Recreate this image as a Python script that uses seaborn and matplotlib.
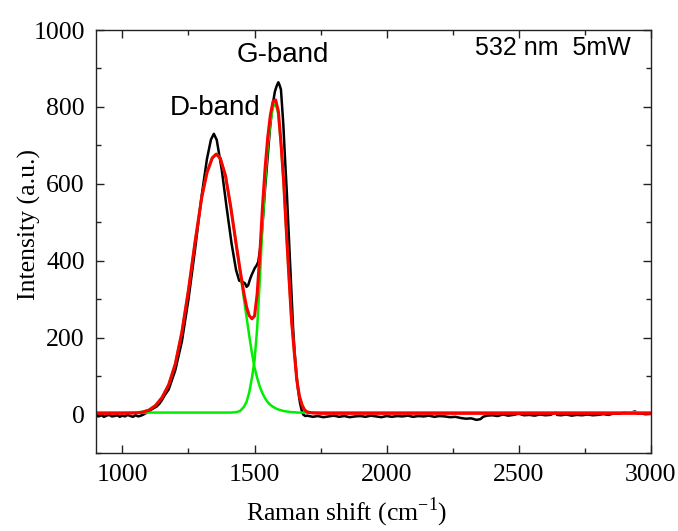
import numpy as np
import pandas as pd
import matplotlib
matplotlib.use('Agg')
import matplotlib.pyplot as plt
from matplotlib.ticker import MultipleLocator
import seaborn as sns

# raw spectrum (black)
raw_shift = [900, 910, 920, 930, 940, 950, 960, 970, 980, 990, 1000, 1010, 1020,
             1030, 1040, 1050, 1060, 1070, 1080, 1090, 1100, 1110, 1120, 1130,
             1140, 1150, 1160, 1175, 1200, 1225, 1250, 1275, 1300, 1320, 1335,
             1346, 1357, 1376, 1394, 1413, 1430, 1442, 1452, 1464, 1470, 1476,
             1482, 1489, 1495, 1501, 1508, 1514, 1520, 1527, 1533, 1539, 1546,
             1552, 1558, 1565, 1571, 1577, 1584, 1590, 1594, 1600, 1609, 1615,
             1622, 1628, 1634, 1640, 1646, 1652, 1659, 1665, 1672, 1678, 1684,
             1692, 1700, 1720, 1740, 1760, 1780, 1800, 1820, 1840, 1860, 1880,
             1900, 1920, 1940, 1960, 1980, 2000, 2020, 2040, 2060, 2080, 2100,
             2120, 2140, 2160, 2180, 2200, 2220, 2240, 2260, 2280, 2300, 2320,
             2340, 2355, 2365, 2380, 2400, 2420, 2440, 2460, 2480, 2500, 2520,
             2540, 2560, 2580, 2600, 2620, 2640, 2645, 2660, 2680, 2700, 2720,
             2740, 2760, 2780, 2800, 2820, 2840, 2860, 2880, 2900, 2920, 2940,
             2950, 2960, 2980, 3000]
raw_int = [-3, -5, -2, -6, -3, -1, -5, -4, -2, -6, -3, -5, -1,
           -4, -6, -2, -5, -3, 0, 4, 8, 13, 17, 21,
           28, 38, 50, 65, 115, 190, 300, 430, 570, 665, 715,
           730, 714, 636, 540, 445, 376, 348, 346, 341, 332, 336,
           350, 363, 372, 381, 388, 397, 425, 467, 520, 580, 640,
           692, 740, 787, 815, 840, 855, 864, 858, 845, 753, 670,
           580, 490, 397, 305, 224, 160, 103, 62, 30, 12, 0,
           -4, -3, -6, -4, -7, -5, -3, -6, -4, -7, -5,
           -4, -6, -3, -5, -7, -4, -6, -4, -5, -3, -6,
           -4, -5, -3, -6, -4, -5, -7, -6, -9, -11, -10,
           -14, -12, -6, -3, -2, -4, 0, -3, -1, 2, -2,
           -1, -3, 0, -2, -1, 6, -1, -2, 0, -3, -1,
           -2, 0, -2, -1, 1, -1, 3, 2, 6, 4, 8,
           2, 3, 1, 2]

# fitted curves (red = sum, green = D and G components)
fit_shift = [900, 1000, 1050, 1075, 1100, 1125, 1150, 1175, 1200, 1225, 1250,
             1275, 1300, 1320, 1340, 1355, 1370, 1390, 1410, 1430, 1445, 1460,
             1470, 1480, 1490, 1500, 1510, 1520, 1530, 1540, 1550, 1560, 1570,
             1580, 1590, 1600, 1610, 1620, 1630, 1640, 1650, 1660, 1670, 1680,
             1690, 1700, 1720, 1750, 1800, 2000, 3000]
d_band = [5, 5, 5, 7, 12, 24, 45, 78, 132, 215, 325,
          450, 565, 630, 668, 678, 668, 622, 540, 445, 374, 300,
          252, 205, 160, 122, 95, 72, 55, 42, 32, 25, 20,
          16, 13, 11, 9, 8, 7, 6, 6, 5, 5, 5,
          5, 5, 5, 5, 5, 5, 5]
g_band = [5, 5, 5, 5, 5, 5, 5, 5, 5, 5, 5,
          5, 5, 5, 5, 5, 5, 5, 5, 6, 9, 20,
          33, 58, 95, 140, 225, 350, 490, 605, 695, 760, 800,
          808, 782, 702, 605, 480, 360, 245, 165, 90, 48, 25,
          12, 7, 5, 5, 5, 5, 5]
fit_sum = [3, 3, 4, 6, 11, 23, 44, 77, 131, 214, 324,
           449, 564, 629, 667, 677, 667, 621, 539, 445, 377, 314,
           279, 257, 249, 256, 314, 416, 539, 641, 721, 779, 814,
           818, 789, 707, 608, 482, 361, 245, 165, 89, 47, 24,
           11, 6, 4, 3, 3, 3, 3]

raw = pd.DataFrame({'shift': raw_shift, 'intensity': raw_int})
fit = pd.DataFrame({'shift': fit_shift, 'D': d_band, 'G': g_band, 'fit': fit_sum})

sns.set_theme(style='ticks')
plt.rcParams['font.family'] = ['Liberation Serif', 'DejaVu Serif']
plt.rcParams['mathtext.fontset'] = 'custom'
plt.rcParams['mathtext.rm'] = 'Liberation Serif'
plt.rcParams['text.color'] = 'black'
plt.rcParams['axes.labelcolor'] = 'black'
plt.rcParams['xtick.color'] = 'black'
plt.rcParams['ytick.color'] = 'black'

fig = plt.figure(figsize=(6.78, 5.31), dpi=100)
ax = fig.add_axes([0.1416, 0.147, 0.8184, 0.7965])

sns.lineplot(data=raw, x='shift', y='intensity', color='black', lw=1.8,
             sort=False, estimator=None, ax=ax)
sns.lineplot(data=fit, x='shift', y='D', color='#00ee00', lw=1.8,
             sort=False, estimator=None, ax=ax)
sns.lineplot(data=fit, x='shift', y='G', color='#00ee00', lw=1.8,
             sort=False, estimator=None, ax=ax)
sns.lineplot(data=fit, x='shift', y='fit', color='red', lw=2.2,
             sort=False, estimator=None, ax=ax)

ax.set_xlim(900, 3000)
ax.set_ylim(-100, 1000)
ax.xaxis.set_major_locator(MultipleLocator(500))
ax.xaxis.set_minor_locator(MultipleLocator(250))
ax.yaxis.set_major_locator(MultipleLocator(200))
ax.yaxis.set_minor_locator(MultipleLocator(100))
ax.tick_params(which='both', direction='in', top=True, right=True,
               labelsize=18.5, width=1, color='#222222', labelcolor='black')
ax.tick_params(which='major', length=6, pad=8)
ax.tick_params(which='minor', length=3.5)
for sp in ax.spines.values():
    sp.set_linewidth(1)
    sp.set_color('#222222')

ax.set_xlabel('Raman shift (cm$^{\\mathregular{-1}}$)', fontsize=18.5)
ax.set_ylabel('Intensity (a.u.)', fontsize=18.5)
ax.xaxis.set_label_coords(0.452, -0.10)
ax.yaxis.set_label_coords(-0.10, 0.54)

ax.text(1350, 797, 'D-band', fontsize=20, family='Liberation Sans', ha='center', va='center')
ax.text(1608, 935, 'G-band', fontsize=20, family='Liberation Sans', ha='center', va='center')
ax.text(2629, 953, '532 nm  5mW', fontsize=18, family='Liberation Sans', ha='center', va='center')

fig.savefig('out.png', dpi=100)
